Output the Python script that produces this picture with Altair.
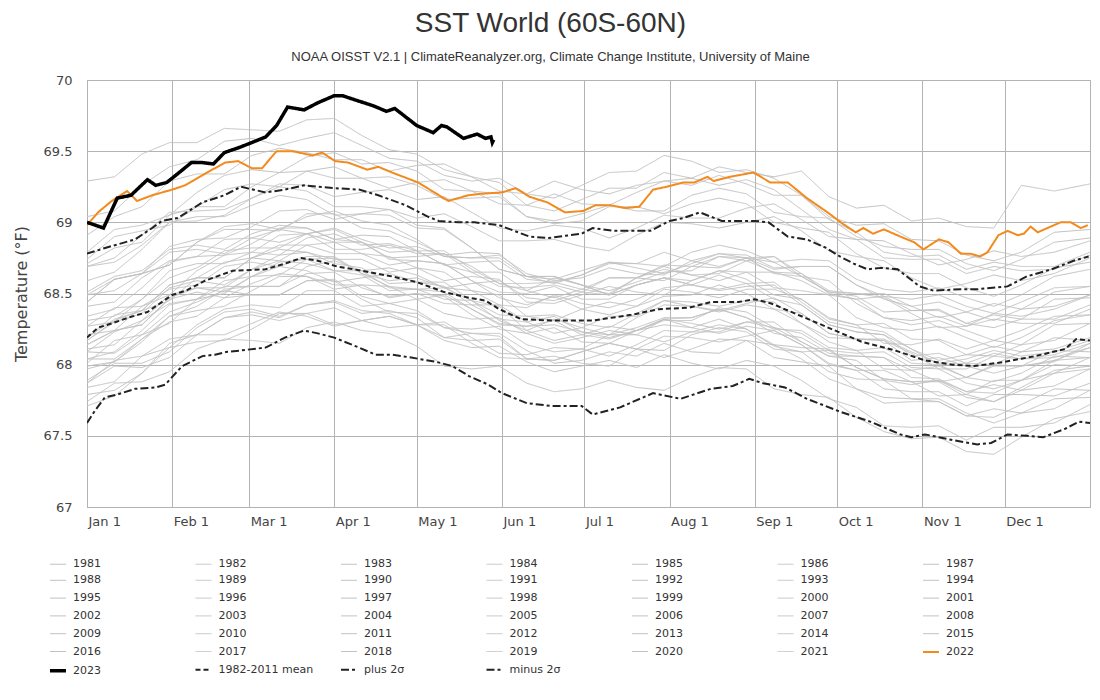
import altair as alt
import pandas as pd

# ---------------- data ----------------
month_ticks = [0, 31, 59, 90, 120, 151, 181, 212, 243, 273, 304, 334]
month_labels = ["Jan 1", "Feb 1", "Mar 1", "Apr 1", "May 1", "Jun 1",
                "Jul 1", "Aug 1", "Sep 1", "Oct 1", "Nov 1", "Dec 1"]
y_ticks = [67, 67.5, 68, 68.5, 69, 69.5, 70]

gray_days = [0, 10, 20, 30, 40, 50, 60, 70, 80, 90, 100, 110, 120, 130, 140, 150, 160, 170, 180,
             190, 200, 210, 220, 230, 240, 250, 260, 270, 280, 290, 300, 310, 320, 330, 340, 352, 365]
gray_values = {
    1981: [67.89, 68.01, 68.01, 68.09, 68.26, 68.37, 68.39, 68.34, 68.42, 68.44, 68.36, 68.38, 68.33, 68.19, 68.17, 68.18, 68.04, 68.03, 68.09, 68.15, 68.11, 68.05, 68.11, 68.18, 68.17, 68.05, 68.02, 67.99, 67.83, 67.77, 67.76, 67.76, 67.66, 67.59, 67.66, 67.76, 67.77],
    1982: [67.79, 67.82, 67.94, 68.15, 68.21, 68.21, 68.29, 68.37, 68.34, 68.27, 68.31, 68.34, 68.28, 68.30, 68.19, 68.08, 68.07, 68.12, 68.11, 68.06, 68.14, 68.24, 68.23, 68.23, 68.30, 68.30, 68.16, 68.06, 68.06, 68.05, 67.96, 67.88, 67.91, 68.00, 67.99, 68.03, 68.12],
    1983: [68.17, 68.31, 68.38, 68.56, 68.61, 68.61, 68.75, 68.81, 68.79, 68.71, 68.68, 68.57, 68.58, 68.55, 68.42, 68.32, 68.30, 68.34, 68.23, 68.19, 68.24, 68.28, 68.26, 68.32, 68.25, 68.13, 68.09, 67.95, 67.90, 67.89, 67.76, 67.74, 67.64, 67.63, 67.72, 67.83, 67.82],
    1984: [67.84, 67.88, 68.06, 68.18, 68.21, 68.33, 68.35, 68.31, 68.36, 68.40, 68.31, 68.26, 68.28, 68.17, 68.12, 68.13, 68.02, 67.95, 67.99, 68.03, 67.98, 68.07, 68.01, 67.97, 68.03, 67.99, 67.89, 67.76, 67.70, 67.57, 67.56, 67.57, 67.47, 67.56, 67.56, 67.59, 67.72],
    1985: [67.74, 67.87, 67.88, 67.95, 68.11, 68.18, 68.17, 68.15, 68.26, 68.30, 68.24, 68.22, 68.13, 67.99, 67.97, 67.99, 67.87, 67.81, 67.83, 67.89, 67.84, 67.82, 67.91, 67.98, 67.97, 67.83, 67.79, 67.77, 67.63, 67.53, 67.48, 67.49, 67.39, 67.37, 67.49, 67.62, 67.67],
    1986: [67.71, 67.78, 67.94, 68.12, 68.16, 68.17, 68.25, 68.36, 68.36, 68.28, 68.31, 68.34, 68.28, 68.28, 68.15, 68.05, 68.04, 68.06, 68.01, 67.99, 68.11, 68.20, 68.19, 68.16, 68.20, 68.24, 68.14, 68.00, 67.96, 67.96, 67.88, 67.78, 67.79, 67.89, 67.89, 67.94, 68.05],
    1987: [68.09, 68.23, 68.31, 68.49, 68.54, 68.54, 68.67, 68.77, 68.79, 68.74, 68.74, 68.65, 68.68, 68.65, 68.52, 68.42, 68.40, 68.49, 68.43, 68.40, 68.46, 68.54, 68.56, 68.63, 68.57, 68.46, 68.42, 68.28, 68.23, 68.21, 68.06, 68.08, 68.01, 68.00, 68.09, 68.19, 68.17],
    1988: [68.21, 68.24, 68.41, 68.53, 68.56, 68.69, 68.72, 68.69, 68.76, 68.76, 68.64, 68.55, 68.53, 68.46, 68.45, 68.41, 68.24, 68.17, 68.21, 68.27, 68.24, 68.32, 68.26, 68.22, 68.27, 68.24, 68.14, 68.01, 67.96, 67.83, 67.81, 67.81, 67.71, 67.79, 67.79, 67.78, 67.87],
    1989: [67.87, 67.99, 67.98, 68.05, 68.21, 68.33, 68.37, 68.33, 68.42, 68.45, 68.38, 68.36, 68.28, 68.19, 68.22, 68.20, 68.04, 68.03, 68.09, 68.15, 68.11, 68.10, 68.21, 68.26, 68.23, 68.11, 68.09, 68.10, 67.98, 67.90, 67.88, 67.88, 67.77, 67.74, 67.84, 67.96, 67.99],
    1990: [68.04, 68.09, 68.24, 68.42, 68.46, 68.50, 68.62, 68.69, 68.66, 68.58, 68.61, 68.64, 68.58, 68.58, 68.45, 68.35, 68.34, 68.35, 68.29, 68.26, 68.36, 68.45, 68.44, 68.41, 68.45, 68.44, 68.29, 68.19, 68.18, 68.17, 68.08, 67.97, 67.97, 68.06, 68.04, 68.05, 68.12],
    1991: [68.14, 68.24, 68.28, 68.47, 68.54, 68.51, 68.62, 68.72, 68.74, 68.66, 68.63, 68.52, 68.53, 68.51, 68.39, 68.29, 68.27, 68.31, 68.21, 68.18, 68.24, 68.32, 68.33, 68.39, 68.33, 68.25, 68.24, 68.12, 68.10, 68.12, 68.01, 68.00, 67.91, 67.88, 67.94, 68.06, 68.05],
    1992: [68.09, 68.08, 68.21, 68.37, 68.44, 68.52, 68.49, 68.49, 68.59, 68.59, 68.46, 68.37, 68.36, 68.26, 68.22, 68.22, 68.10, 68.01, 68.03, 68.09, 68.06, 68.15, 68.09, 68.08, 68.17, 68.14, 68.04, 67.90, 67.83, 67.73, 67.74, 67.74, 67.64, 67.69, 67.66, 67.69, 67.82],
    1993: [67.87, 68.03, 68.06, 68.12, 68.28, 68.39, 68.42, 68.40, 68.52, 68.52, 68.41, 68.43, 68.38, 68.26, 68.25, 68.27, 68.14, 68.09, 68.11, 68.21, 68.21, 68.16, 68.23, 68.28, 68.25, 68.14, 68.12, 68.11, 67.98, 67.90, 67.88, 67.89, 67.79, 67.74, 67.82, 67.94, 67.97],
    1994: [67.97, 68.02, 68.16, 68.34, 68.38, 68.41, 68.52, 68.62, 68.62, 68.53, 68.56, 68.55, 68.46, 68.49, 68.39, 68.28, 68.27, 68.28, 68.23, 68.21, 68.33, 68.42, 68.41, 68.38, 68.43, 68.47, 68.36, 68.22, 68.18, 68.18, 68.09, 68.01, 68.04, 68.10, 68.06, 68.09, 68.17],
    1995: [68.17, 68.30, 68.36, 68.54, 68.59, 68.56, 68.67, 68.73, 68.71, 68.66, 68.66, 68.54, 68.53, 68.54, 68.45, 68.31, 68.24, 68.32, 68.26, 68.21, 68.26, 68.33, 68.33, 68.39, 68.33, 68.22, 68.19, 68.08, 68.06, 68.05, 67.91, 67.90, 67.81, 67.80, 67.89, 68.00, 67.99],
    1996: [67.99, 68.02, 68.18, 68.30, 68.34, 68.47, 68.49, 68.49, 68.59, 68.60, 68.48, 68.43, 68.46, 68.36, 68.32, 68.33, 68.22, 68.15, 68.19, 68.24, 68.21, 68.32, 68.29, 68.25, 68.30, 68.26, 68.16, 68.06, 68.03, 67.89, 67.86, 67.89, 67.81, 67.86, 67.82, 67.85, 67.97],
    1997: [68.01, 68.17, 68.21, 68.29, 68.46, 68.55, 68.55, 68.55, 68.69, 68.73, 68.66, 68.68, 68.63, 68.54, 68.57, 68.59, 68.47, 68.45, 68.51, 68.61, 68.61, 68.59, 68.69, 68.76, 68.75, 68.67, 68.69, 68.69, 68.56, 68.48, 68.46, 68.49, 68.41, 68.36, 68.44, 68.54, 68.55],
    1998: [68.59, 68.65, 68.81, 69.00, 69.04, 69.04, 69.12, 69.19, 69.16, 69.05, 69.06, 69.05, 68.96, 68.95, 68.82, 68.67, 68.62, 68.62, 68.56, 68.49, 68.56, 68.61, 68.56, 68.52, 68.55, 68.56, 68.42, 68.28, 68.23, 68.21, 68.11, 68.00, 68.01, 68.08, 68.04, 68.07, 68.15],
    1999: [68.14, 68.24, 68.28, 68.46, 68.51, 68.47, 68.57, 68.64, 68.62, 68.56, 68.56, 68.47, 68.50, 68.48, 68.35, 68.25, 68.22, 68.26, 68.16, 68.15, 68.24, 68.31, 68.31, 68.40, 68.37, 68.26, 68.22, 68.10, 68.08, 68.09, 67.98, 67.97, 67.87, 67.83, 67.89, 68.03, 68.05],
    2000: [68.04, 68.04, 68.18, 68.34, 68.41, 68.53, 68.55, 68.55, 68.64, 68.65, 68.54, 68.48, 68.50, 68.43, 68.42, 68.42, 68.30, 68.22, 68.26, 68.34, 68.34, 68.45, 68.41, 68.37, 68.42, 68.39, 68.29, 68.16, 68.10, 67.97, 67.96, 67.99, 67.91, 67.99, 67.99, 68.02, 68.15],
    2001: [68.19, 68.35, 68.38, 68.45, 68.61, 68.72, 68.75, 68.73, 68.84, 68.86, 68.78, 68.76, 68.68, 68.59, 68.62, 68.60, 68.44, 68.43, 68.49, 68.55, 68.51, 68.49, 68.59, 68.66, 68.65, 68.54, 68.52, 68.49, 68.33, 68.26, 68.24, 68.27, 68.19, 68.12, 68.19, 68.31, 68.35],
    2002: [68.34, 68.39, 68.54, 68.72, 68.76, 68.77, 68.85, 68.96, 68.96, 68.88, 68.91, 68.90, 68.80, 68.80, 68.67, 68.57, 68.57, 68.58, 68.53, 68.50, 68.61, 68.70, 68.69, 68.68, 68.75, 68.76, 68.62, 68.51, 68.50, 68.47, 68.36, 68.26, 68.27, 68.36, 68.34, 68.39, 68.49],
    2003: [68.51, 68.62, 68.66, 68.81, 68.84, 68.81, 68.92, 68.98, 68.96, 68.88, 68.86, 68.75, 68.76, 68.78, 68.69, 68.57, 68.52, 68.61, 68.56, 68.52, 68.58, 68.65, 68.66, 68.76, 68.73, 68.65, 68.64, 68.50, 68.46, 68.48, 68.38, 68.38, 68.29, 68.26, 68.32, 68.46, 68.47],
    2004: [68.41, 68.44, 68.61, 68.73, 68.76, 68.88, 68.89, 68.86, 68.92, 68.95, 68.86, 68.79, 68.80, 68.70, 68.65, 68.65, 68.52, 68.47, 68.53, 68.61, 68.61, 68.69, 68.63, 68.59, 68.65, 68.65, 68.59, 68.49, 68.46, 68.33, 68.31, 68.34, 68.27, 68.32, 68.29, 68.29, 68.39],
    2005: [68.44, 68.60, 68.64, 68.70, 68.86, 68.97, 68.99, 68.95, 69.04, 69.08, 69.01, 68.98, 68.88, 68.76, 68.75, 68.77, 68.64, 68.59, 68.61, 68.68, 68.64, 68.63, 68.73, 68.78, 68.75, 68.64, 68.62, 68.59, 68.43, 68.33, 68.28, 68.31, 68.24, 68.17, 68.24, 68.34, 68.35],
    2006: [68.31, 68.34, 68.46, 68.66, 68.71, 68.71, 68.79, 68.91, 68.92, 68.81, 68.81, 68.84, 68.78, 68.78, 68.65, 68.55, 68.54, 68.56, 68.51, 68.49, 68.61, 68.67, 68.63, 68.64, 68.73, 68.76, 68.64, 68.52, 68.50, 68.50, 68.41, 68.33, 68.37, 68.43, 68.39, 68.41, 68.49],
    2007: [68.49, 68.60, 68.64, 68.79, 68.81, 68.78, 68.89, 68.95, 68.92, 68.86, 68.86, 68.74, 68.73, 68.71, 68.59, 68.47, 68.42, 68.48, 68.39, 68.35, 68.41, 68.48, 68.49, 68.56, 68.50, 68.39, 68.36, 68.22, 68.18, 68.17, 68.03, 68.05, 67.99, 67.94, 67.99, 68.10, 68.09],
    2008: [68.11, 68.14, 68.31, 68.43, 68.46, 68.59, 68.62, 68.63, 68.74, 68.75, 68.64, 68.59, 68.61, 68.54, 68.52, 68.49, 68.34, 68.31, 68.39, 68.44, 68.41, 68.53, 68.51, 68.47, 68.53, 68.53, 68.46, 68.33, 68.28, 68.15, 68.14, 68.18, 68.11, 68.17, 68.14, 68.17, 68.29],
    2009: [68.27, 68.40, 68.41, 68.49, 68.66, 68.77, 68.79, 68.77, 68.89, 68.92, 68.84, 68.85, 68.80, 68.70, 68.72, 68.73, 68.60, 68.58, 68.63, 68.72, 68.71, 68.69, 68.79, 68.84, 68.80, 68.72, 68.74, 68.73, 68.60, 68.53, 68.51, 68.54, 68.47, 68.41, 68.49, 68.62, 68.67],
    2010: [68.69, 68.75, 68.91, 69.07, 69.08, 69.09, 69.17, 69.25, 69.22, 69.11, 69.11, 69.09, 68.98, 68.96, 68.82, 68.67, 68.62, 68.62, 68.56, 68.49, 68.56, 68.61, 68.56, 68.53, 68.57, 68.58, 68.44, 68.30, 68.26, 68.23, 68.11, 68.03, 68.07, 68.13, 68.09, 68.11, 68.19],
    2011: [68.19, 68.32, 68.38, 68.56, 68.61, 68.61, 68.75, 68.84, 68.84, 68.78, 68.78, 68.70, 68.73, 68.71, 68.59, 68.51, 68.50, 68.55, 68.46, 68.46, 68.56, 68.61, 68.59, 68.66, 68.60, 68.49, 68.46, 68.32, 68.28, 68.29, 68.18, 68.17, 68.07, 68.06, 68.14, 68.28, 68.29],
    2012: [68.27, 68.30, 68.46, 68.61, 68.68, 68.80, 68.82, 68.82, 68.92, 68.96, 68.88, 68.82, 68.83, 68.76, 68.75, 68.75, 68.62, 68.57, 68.63, 68.71, 68.71, 68.79, 68.73, 68.69, 68.75, 68.72, 68.62, 68.51, 68.48, 68.37, 68.38, 68.39, 68.29, 68.35, 68.32, 68.32, 68.42],
    2013: [68.44, 68.60, 68.64, 68.70, 68.86, 68.95, 68.95, 68.94, 69.06, 69.06, 68.96, 68.94, 68.86, 68.77, 68.79, 68.78, 68.62, 68.60, 68.66, 68.72, 68.68, 68.64, 68.71, 68.78, 68.77, 68.68, 68.69, 68.69, 68.56, 68.46, 68.41, 68.44, 68.37, 68.31, 68.39, 68.51, 68.55],
    2014: [68.49, 68.52, 68.64, 68.83, 68.88, 68.89, 68.97, 69.08, 69.09, 69.02, 69.06, 69.09, 69.03, 69.06, 68.97, 68.87, 68.87, 68.88, 68.83, 68.80, 68.91, 69.00, 68.99, 68.96, 69.00, 69.04, 68.94, 68.80, 68.76, 68.73, 68.61, 68.53, 68.57, 68.63, 68.59, 68.64, 68.75],
    2015: [68.71, 68.82, 68.86, 69.05, 69.11, 69.11, 69.25, 69.35, 69.36, 69.31, 69.31, 69.24, 69.28, 69.30, 69.22, 69.13, 69.12, 69.20, 69.13, 69.12, 69.21, 69.29, 69.31, 69.39, 69.35, 69.32, 69.36, 69.18, 69.10, 69.12, 69.01, 69.03, 68.97, 68.96, 69.26, 69.22, 69.27],
    2016: [69.29, 69.32, 69.48, 69.56, 69.56, 69.66, 69.65, 69.64, 69.72, 69.73, 69.61, 69.51, 69.48, 69.37, 69.32, 69.28, 69.12, 69.08, 69.16, 69.24, 69.24, 69.35, 69.31, 69.26, 69.30, 69.23, 69.09, 68.95, 68.88, 68.75, 68.74, 68.74, 68.64, 68.69, 68.66, 68.67, 68.77],
    2017: [68.79, 68.95, 68.98, 69.05, 69.21, 69.33, 69.37, 69.35, 69.46, 69.49, 69.41, 69.42, 69.36, 69.23, 69.22, 69.20, 69.04, 68.99, 69.01, 69.11, 69.11, 69.06, 69.13, 69.17, 69.13, 69.00, 68.96, 68.93, 68.78, 68.68, 68.64, 68.64, 68.54, 68.48, 68.56, 68.68, 68.72],
    2018: [68.69, 68.72, 68.84, 69.00, 69.01, 69.05, 69.17, 69.27, 69.26, 69.18, 69.21, 69.23, 69.16, 69.18, 69.07, 68.96, 68.94, 68.98, 68.96, 68.89, 68.96, 69.05, 69.03, 69.03, 69.10, 69.13, 69.02, 68.90, 68.88, 68.87, 68.78, 68.70, 68.74, 68.80, 68.76, 68.79, 68.87],
    2019: [68.91, 69.04, 69.11, 69.29, 69.34, 69.34, 69.47, 69.52, 69.49, 69.44, 69.44, 69.36, 69.40, 69.41, 69.32, 69.22, 69.20, 69.29, 69.23, 69.20, 69.26, 69.29, 69.26, 69.33, 69.27, 69.19, 69.19, 69.04, 68.98, 68.99, 68.88, 68.87, 68.77, 68.73, 68.79, 68.93, 68.95],
    2020: [69.04, 69.08, 69.26, 69.39, 69.44, 69.57, 69.59, 69.54, 69.59, 69.63, 69.54, 69.45, 69.43, 69.33, 69.29, 69.31, 69.20, 69.17, 69.26, 69.35, 69.36, 69.47, 69.43, 69.35, 69.37, 69.31, 69.19, 69.02, 68.93, 68.79, 68.76, 68.77, 68.67, 68.72, 68.69, 68.69, 68.79],
    2021: [68.74, 68.90, 68.94, 68.98, 69.11, 69.23, 69.27, 69.25, 69.36, 69.39, 69.31, 69.32, 69.26, 69.16, 69.17, 69.18, 69.04, 69.01, 69.06, 69.12, 69.08, 69.08, 69.19, 69.24, 69.20, 69.07, 69.04, 69.03, 68.90, 68.83, 68.81, 68.81, 68.71, 68.66, 68.74, 68.86, 68.89],
}

y2022_days = [0, 4, 9, 14.6, 18.2, 23.7, 31, 35.7, 43.7, 50.3, 55, 60, 63.7, 69, 74.7, 82, 85.6, 90.3, 95, 102,
              106, 111, 120.5, 131.5, 138.7, 143, 151, 156, 161, 167.5, 174, 180.6, 185, 190.5, 196, 201, 206, 211,
              217, 221, 225.8, 228, 234, 242.5, 248.7, 255, 262, 269.5, 275, 279.7, 282.6, 286, 290, 296, 301,
              304.4, 310, 313.5, 318, 321.5, 325, 327.7, 331.7, 335, 338.7, 340.9, 343.4, 346, 350.7, 354.3, 358,
              361.6, 364.2]
y2022_vals = [68.98, 69.07, 69.15, 69.22, 69.15, 69.19, 69.23, 69.26, 69.35, 69.42, 69.43, 69.38, 69.38, 69.50,
              69.50, 69.47, 69.49, 69.43, 69.42, 69.37, 69.39, 69.35, 69.28, 69.15, 69.19, 69.20, 69.21, 69.24,
              69.18, 69.14, 69.07, 69.08, 69.12, 69.12, 69.10, 69.11, 69.23, 69.25, 69.28, 69.28, 69.32, 69.29,
              69.32, 69.35, 69.28, 69.28, 69.17, 69.07, 68.99, 68.93, 68.96, 68.92, 68.95, 68.90, 68.86, 68.81,
              68.88, 68.86, 68.78, 68.78, 68.76, 68.79, 68.91, 68.94, 68.91, 68.92, 68.97, 68.93, 68.97, 69.00,
              69.00, 68.96, 68.98]

y2023_days = [0, 6, 11, 16, 22, 25, 29, 31, 38, 42, 46, 50, 56, 65, 69, 73, 79, 84, 90, 93, 96, 104, 109, 112,
              120, 126, 129, 131, 137, 142, 145, 147, 147.5, 148]
y2023_vals = [69.00, 68.96, 69.17, 69.19, 69.30, 69.26, 69.28, 69.31, 69.42, 69.42, 69.41, 69.49, 69.53, 69.60,
              69.68, 69.81, 69.79, 69.84, 69.89, 69.89, 69.87, 69.82, 69.78, 69.80, 69.68, 69.63, 69.68, 69.67,
              69.59, 69.62, 69.59, 69.60, 69.56, 69.58]

mean_days = [0, 4, 9, 15, 22, 31, 36, 43, 53, 65, 72, 78, 84, 91, 100, 111, 120, 130, 139, 145, 150, 158, 169,
             184, 198, 208, 219, 227, 237, 243, 249, 260, 271, 282, 294, 305, 315, 323, 334, 345, 356, 360, 365]
mean_vals = [68.19, 68.26, 68.29, 68.33, 68.37, 68.49, 68.52, 68.59, 68.66, 68.67, 68.71, 68.75, 68.73, 68.69,
             68.66, 68.62, 68.58, 68.51, 68.47, 68.45, 68.39, 68.32, 68.31, 68.31, 68.35, 68.39, 68.40, 68.44,
             68.44, 68.46, 68.43, 68.34, 68.25, 68.16, 68.10, 68.03, 68.00, 67.99, 68.02, 68.06, 68.11, 68.18, 68.17]

plus_days = [0, 6.6, 17.5, 23.7, 27.3, 33, 42, 50, 56, 65, 72, 79, 84, 90, 99, 106, 116, 124, 128, 135, 141, 150,
             161, 168, 180, 184, 192, 205, 212, 217, 223, 231, 243, 248, 255, 262, 269, 274, 279, 284, 289, 295,
             303, 308, 318, 324, 335, 342, 351, 359, 364.5]
plus_vals = [68.78, 68.82, 68.88, 68.96, 69.01, 69.03, 69.14, 69.19, 69.25, 69.21, 69.23, 69.26, 69.25, 69.24,
             69.23, 69.19, 69.12, 69.04, 69.01, 69.00, 69.00, 68.98, 68.90, 68.89, 68.92, 68.96, 68.94, 68.94,
             69.01, 69.03, 69.07, 69.01, 69.01, 69.00, 68.90, 68.88, 68.82, 68.76, 68.71, 68.67, 68.68, 68.67,
             68.55, 68.52, 68.53, 68.53, 68.55, 68.62, 68.67, 68.73, 68.76]

minus_days = [0, 3, 6.5, 11, 17.5, 25, 28.5, 34.6, 42, 46.6, 51, 56, 65, 72, 79, 84, 90, 99, 105, 111, 118, 127,
              133, 139, 146, 151, 160, 169, 180, 184, 194, 206, 216, 227, 235, 241, 246, 254, 262, 274, 285, 296,
              300, 305, 315, 324, 329, 335, 342, 348, 356, 361, 365]
minus_vals = [67.59, 67.68, 67.77, 67.79, 67.83, 67.84, 67.86, 67.99, 68.06, 68.07, 68.09, 68.10, 68.12, 68.19,
              68.24, 68.22, 68.19, 68.12, 68.07, 68.07, 68.05, 68.02, 67.99, 67.92, 67.86, 67.80, 67.73, 67.71,
              67.71, 67.65, 67.70, 67.80, 67.76, 67.83, 67.85, 67.90, 67.87, 67.84, 67.76, 67.67, 67.60, 67.51,
              67.49, 67.51, 67.47, 67.44, 67.45, 67.51, 67.50, 67.49, 67.55, 67.60, 67.59]

# ---------------- table ----------------
rows = []
for yr, vals in gray_values.items():
    for d, v in zip(gray_days, vals):
        rows.append({"day": d, "temp": v, "series": str(yr)})
special = [("1982-2011 mean", mean_days, mean_vals),
           ("plus 2σ", plus_days, plus_vals),
           ("minus 2σ", minus_days, minus_vals),
           ("2022", y2022_days, y2022_vals),
           ("2023", y2023_days, y2023_vals)]
for name, ds, vs in special:
    for d, v in zip(ds, vs):
        rows.append({"day": d, "temp": v, "series": name})
df = pd.DataFrame(rows)

gray_names = [str(y) for y in gray_values]
series_order = gray_names + ["2022", "2023", "1982-2011 mean", "plus 2σ", "minus 2σ"]
GRAY = "#c2c2c2"
color_range = [GRAY] * len(gray_names) + ["#f28a1d", "#000000", "#222222", "#222222", "#222222"]
dash_range = [[1, 0]] * len(gray_names) + [[1, 0], [1, 0], [5, 3], [8, 3, 3, 3], [8, 3, 3, 3]]
width_range = [1] * len(gray_names) + [2, 3.5, 2, 2, 2]

legend = alt.Legend(
    orient="none", direction="horizontal", legendX=-39, legendY=474, columns=7, title=None,
    symbolType="stroke", symbolSize=256, symbolLimit=60,
    labelFont="DejaVu Sans", labelFontSize=11, labelColor="#333333",
    labelOffset=5, labelLimit=200, columnPadding=23.5, rowPadding=0.8,
    gridAlign="all", padding=0,
)

label_expr = "[" + ",".join("'%s'" % s for s in month_labels) + "][indexof([" + \
    ",".join(str(t) for t in month_ticks) + "], datum.value)]"

GRID = "#b3b3b3"
x_enc = alt.X("day:Q", scale=alt.Scale(domain=[0, 365], nice=False, zero=False),
              axis=alt.Axis(values=month_ticks, labelExpr=label_expr, title=None,
                            grid=True, gridColor=GRID, ticks=False, domainColor=GRID,
                            labelAlign="left", labelOffset=1, labelPadding=8,
                            labelFont="DejaVu Sans", labelFontSize=13, labelColor="#444444"))
y_enc = alt.Y("temp:Q", scale=alt.Scale(domain=[67, 70], nice=False, zero=False),
              axis=alt.Axis(values=y_ticks, format="~g", title="Temperature (°F)",
                            grid=True, gridColor=GRID, ticks=False, domainColor=GRID,
                            labelPadding=15, labelFont="DejaVu Sans", labelFontSize=13,
                            labelColor="#444444", titleFont="DejaVu Sans",
                            titleFontSize=16, titleFontWeight="normal", titleColor="#444444",
                            titlePadding=14))

enc = dict(
    x=x_enc, y=y_enc,
    color=alt.Color("series:N", scale=alt.Scale(domain=series_order, range=color_range), legend=legend),
    strokeDash=alt.StrokeDash("series:N", scale=alt.Scale(domain=series_order, range=dash_range), legend=legend),
    strokeWidth=alt.StrokeWidth("series:N", scale=alt.Scale(type="ordinal", domain=series_order, range=width_range), legend=legend),
)

base = alt.Chart(df)
layers = []
for group in [gray_names, ["1982-2011 mean", "plus 2σ", "minus 2σ"], ["2022"], ["2023"]]:
    layers.append(base.transform_filter(alt.FieldOneOfPredicate(field="series", oneOf=group))
                  .mark_line(clip=True).encode(**enc))

chart = alt.layer(*layers).properties(
    width=1003, height=427,
    padding={"left": 79, "top": 72, "right": 2, "bottom": 185},
    autosize=alt.AutoSizeParams(type="none"),
    title=alt.TitleParams(
        text="SST World (60S-60N)",
        subtitle="NOAA OISST V2.1 | ClimateReanalyzer.org, Climate Change Institute, University of Maine",
        font="Liberation Sans", fontSize=28, fontWeight="normal", color="#333333",
        subtitleFont="Liberation Sans", subtitleFontSize=13, subtitleColor="#333333",
        anchor="middle", dx=-38, offset=10, subtitlePadding=13,
    ),
).configure_view(stroke=GRID)

chart.save("out.html", embed_options={"renderer": "svg", "actions": False})
